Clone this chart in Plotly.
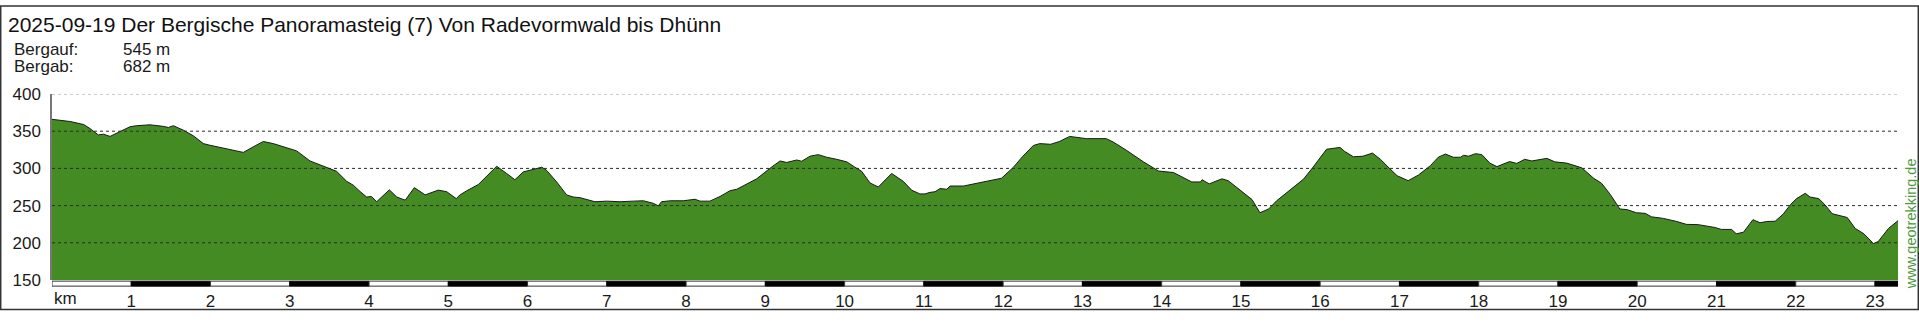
import plotly.graph_objects as go

# ---- data -------------------------------------------------------------
km = [0.00, 0.10, 0.23, 0.40, 0.48, 0.585, 0.648, 0.732, 0.858, 0.984,
      1.068, 1.236, 1.405, 1.468, 1.53, 1.657, 1.783, 1.91, 1.99, 2.12,
      2.245, 2.414, 2.54, 2.666, 2.792, 2.92, 3.087, 3.255, 3.38, 3.507,
      3.59, 3.718, 3.8, 3.886, 3.97, 4.03, 4.096, 4.256, 4.35, 4.456,
      4.572, 4.708, 4.874, 4.98, 5.1, 5.148, 5.232, 5.38, 5.61, 5.736,
      5.84, 5.946, 6.07, 6.18, 6.24, 6.367, 6.493, 6.577, 6.66, 6.787,
      6.85, 6.997, 7.165, 7.334, 7.46, 7.586, 7.65, 7.69, 7.8, 7.965,
      8.113, 8.176, 8.3, 8.428, 8.554, 8.64, 8.807, 8.891, 9.06, 9.185,
      9.27, 9.395, 9.458, 9.563, 9.668, 9.773, 9.9, 10.027, 10.13, 10.215,
      10.32, 10.425, 10.593, 10.74, 10.845, 10.95, 11.015, 11.078, 11.14, 11.204,
      11.289, 11.33, 11.5, 11.666, 11.834, 11.98, 12.13, 12.25, 12.38, 12.46,
      12.6, 12.71, 12.84, 12.97, 13.05, 13.3, 13.39, 13.56, 13.77, 13.96,
      14.15, 14.38, 14.49, 14.51, 14.6, 14.76, 14.84, 14.99, 15.14, 15.24,
      15.35, 15.45, 15.62, 15.79, 15.91, 16.08, 16.25, 16.31, 16.42, 16.54,
      16.66, 16.76, 16.88, 16.97, 17.11, 17.24, 17.39, 17.49, 17.58, 17.68,
      17.77, 17.81, 17.87, 17.96, 18.04, 18.14, 18.23, 18.39, 18.48, 18.58,
      18.67, 18.86, 18.96, 19.11, 19.3, 19.45, 19.55, 19.66, 19.78, 19.87,
      19.99, 20.10, 20.18, 20.33, 20.5, 20.62, 20.77, 20.98, 21.06, 21.19,
      21.25, 21.34, 21.46, 21.55, 21.63, 21.74, 21.84, 21.93, 22.01, 22.12,
      22.18, 22.29, 22.37, 22.46, 22.65, 22.75, 22.86, 22.98, 23.04, 23.17,
      23.29]
elevation = [366, 365, 363, 359, 353.5, 345, 346, 343, 349, 356,
             357.4, 358.6, 356.5, 355, 357.4, 351.4, 343.8, 333.3, 331.2, 328.2,
             324.8, 321.5, 329, 336.2, 333.3, 329, 323.5, 310, 304.6, 299.5,
             296.1, 282.6, 277.5, 269, 261.5, 262.3, 255.2, 271.2, 261.5, 257.3,
             274.2, 264.4, 270.8, 268.7, 259.4, 264.4, 269.9, 278.4, 302.9, 293.2,
             284.8, 295.3, 298.6, 301.6, 297.4, 281.8, 264.4, 261.5, 260.7, 257.3,
             255.2, 256, 255.2, 256, 256.5, 253.1, 249.7, 255.2, 256.5, 256.5,
             258.5, 256, 256, 262.3, 270, 272, 281.3, 286, 300.3, 310,
             308, 311.3, 309.6, 316.4, 318.5, 315, 312.2, 308.8, 301.6, 296.1,
             280.5, 275, 293.2, 282.6, 270.8, 265.7, 265.7, 267.8, 268.6, 272.9,
             272, 276.3, 276.3, 280, 284, 286.8, 301.6, 316.4, 330.7, 333.3,
             332.4, 336.2, 343, 341.7, 340, 340, 335.4, 324, 308.8, 296.5,
             294.4, 281.8, 281.8, 284.8, 279.2, 286, 283.5, 270.8, 258.1, 240.4,
             245.5, 256.4, 270.5, 285.6, 301.6, 325.7, 328.2, 322.7, 315.6, 316.4,
             320.6, 312.2, 299.5, 290.2, 283.5, 291.1, 303.7, 315, 319.3, 315,
             315, 317.7, 316.4, 319.8, 318.5, 307.1, 302.4, 309.2, 306.7, 312.2,
             310, 313.5, 308.8, 307.1, 300.8, 286.8, 280, 265, 245.5, 244.6,
             240.4, 239.6, 234.9, 232.8, 228.6, 224.8, 224.4, 220.6, 218, 218,
             212.1, 214.2, 231.1, 226.9, 228.6, 229, 238.3, 250.9, 259.4, 266.5,
             261.5, 259.4, 250.9, 239.1, 234, 219.3, 212.1, 199, 201.6, 219.3,
             229.8]

y_ticks = [150, 200, 250, 300, 350, 400]
x_ticks = list(range(1, 24))
title_text = "2025-09-19 Der Bergische Panoramasteig (7) Von Radevormwald bis Dhünn"
stat_labels = ["Bergauf:", "Bergab:"]
stat_values = ["545 m", "682 m"]
watermark = "www.geotrekking.de"

# ---- layout geometry (pixels) ----------------------------------------
W, H = 1919, 323
L, R, T, B = 52, 1898, 94, 291
PW, PH = R - L, B - T


def px(xp):
    return (xp - L) / PW


def py(yp):
    return (B - yp) / PH


FONT = "Liberation Sans, Arial, sans-serif"
GREEN = "#458B24"
TXT = "#1a1a1a"

fig = go.Figure()
fig.add_trace(go.Scatter(
    x=km, y=elevation, mode="lines", fill="tozeroy",
    fillcolor=GREEN, line=dict(color="#1a1a1a", width=1),
    hoverinfo="skip", showlegend=False))

shapes = []
# grid lines (drawn above the fill)
for v in y_ticks[1:]:
    shapes.append(dict(type="line", xref="paper", yref="y", x0=0, x1=1,
                       y0=v, y1=v, layer="above",
                       line=dict(color="#999" if v == y_ticks[-1] else "#2a2a2a",
                                 width=1, dash="dot")))

# distance bar under the plot
xmax = km[-1]
k = 0
while k < xmax:
    k1 = min(k + 1, xmax)
    black = (k % 2 == 1)
    shapes.append(dict(type="rect", xref="x", yref="paper",
                       x0=k, x1=k1, y0=py(297.5), y1=py(292.2), layer="above",
                       fillcolor="black" if black else "white",
                       line=dict(color="#333" if not black else "black", width=1)))
    k += 1

# outer frame
shapes.append(dict(type="rect", xref="paper", yref="paper",
                   x0=px(0.7), x1=px(1918.3), y0=py(322.2), y1=py(0.7),
                   line=dict(color="#333", width=1.5), fillcolor="rgba(0,0,0,0)",
                   layer="above"))

annotations = [
    dict(text=title_text, xref="paper", yref="paper", x=px(6), y=py(20),
         xanchor="left", yanchor="middle", showarrow=False,
         font=dict(family=FONT, size=21, color="#111")),
    dict(text="km", xref="x", yref="paper", x=0, y=py(311),
         xanchor="left", yanchor="middle", showarrow=False,
         font=dict(family=FONT, size=17, color=TXT)),
    dict(text=watermark, xref="paper", yref="paper", x=px(1911), y=py(232),
         xanchor="center", yanchor="middle", textangle=-90, showarrow=False,
         font=dict(family=FONT, size=14.5, color="#4f9a3e")),
]
for i, (lab, val) in enumerate(zip(stat_labels, stat_values)):
    yy = py(47 + i * 17.5)
    annotations.append(dict(text=lab, xref="paper", yref="paper", x=px(12), y=yy,
                            xanchor="left", yanchor="middle", showarrow=False,
                            font=dict(family=FONT, size=17, color=TXT)))
    annotations.append(dict(text=val, xref="paper", yref="paper", x=px(121), y=yy,
                            xanchor="left", yanchor="middle", showarrow=False,
                            font=dict(family=FONT, size=17, color=TXT)))

fig.update_layout(
    width=W, height=H,
    margin=dict(l=L, r=W - R, t=T, b=H - B, pad=0),
    paper_bgcolor="white", plot_bgcolor="white",
    shapes=shapes, annotations=annotations,
    xaxis=dict(range=[0, xmax], tickvals=x_ticks, ticktext=[str(t) for t in x_ticks],
               showgrid=False, zeroline=False, showline=False,
               ticks="outside", ticklen=6, tickcolor="rgba(0,0,0,0)",
               tickfont=dict(family=FONT, size=17, color=TXT)),
    yaxis=dict(range=[150, 400], tickvals=y_ticks, showgrid=False, zeroline=False,
               showline=True, linecolor="#777", linewidth=1.5, layer="above traces",
               ticks="outside", ticklen=6, tickcolor="rgba(0,0,0,0)",
               tickfont=dict(family=FONT, size=17, color=TXT)),
)

fig.write_html("out.html")
